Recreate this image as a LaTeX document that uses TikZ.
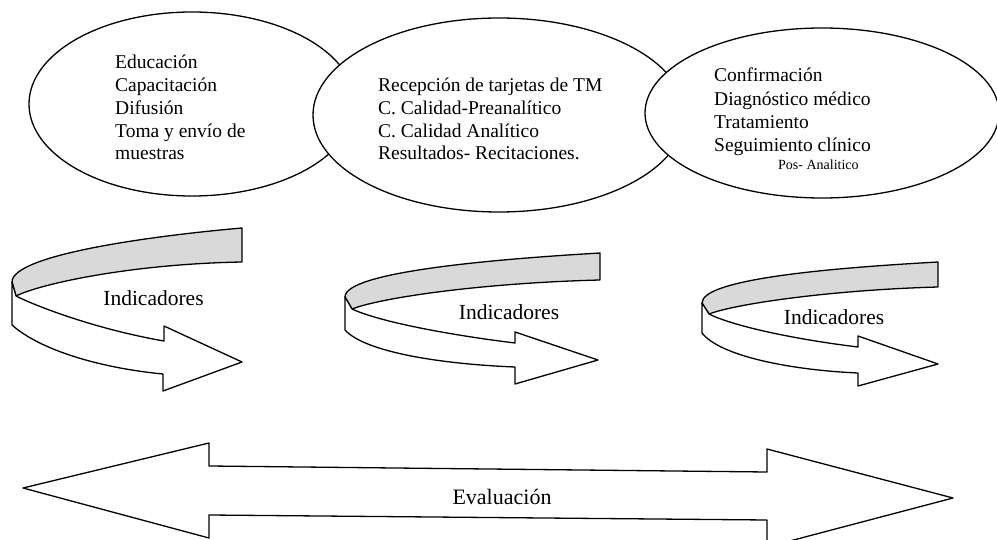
\documentclass[tikz,border=0pt]{standalone}
\usepackage{fontspec}
\setmainfont{Liberation Serif}
\begin{document}
\begin{tikzpicture}[x=1pt,y=-1pt,line join=round,
  outl/.style={draw=black,line width=1.3pt},
  ell/.style={outl,fill=white},
  band/.style={outl,fill=white},
  shade/.style={outl,fill=gray!30},
  ltxt/.style={font=\fontsize{19.5}{23}\selectfont,anchor=base west,inner sep=0pt},
  stxt/.style={font=\fontsize{14}{16}\selectfont,anchor=base west,inner sep=0pt},
  itxt/.style={font=\fontsize{21.5}{25}\selectfont,inner sep=0pt},
  etxt/.style={font=\fontsize{22}{26}\selectfont,inner sep=0pt}]
\useasboundingbox (0,0) rectangle (997,540);
\clip (0,0) rectangle (997,540);
\fill[white] (0,0) rectangle (997,540);

% ellipses
\draw[ell] (192,104) ellipse [x radius=163pt,y radius=92pt];
\draw[ell] (499,115) ellipse [x radius=186pt,y radius=97pt];
\draw[ell] (822,113) ellipse [x radius=177pt,y radius=85pt];

% ellipse texts
\node[ltxt] (a1) at (115,68.5) {Educación};
\node[ltxt] (a2) at (115,91.5) {Capacitación};
\node[ltxt] (a3) at (115,114.5) {Difusión};
\node[ltxt] (a4) at (115,138) {Toma y envío de};
\node[ltxt] (a5) at (115,160) {muestras};

\node[ltxt] (b1) at (378,91.5) {Recepción de tarjetas de TM};
\node[ltxt] (b2) at (378,114.5) {C. Calidad-Preanalítico};
\node[ltxt] (b3) at (378,137.5) {C. Calidad Analítico};
\node[ltxt] (b4) at (378,160) {Resultados- Recitaciones.};

\node[ltxt] (c1) at (714,82) {Confirmación};
\node[ltxt] (c2) at (714,106) {Diagnóstico médico};
\node[ltxt] (c3) at (714,129) {Tratamiento};
\node[ltxt] (c4) at (714,152) {Seguimiento clínico};
\node[stxt] (c5) at (778,170) {Pos- Analitico};

% curved arrow 1
\draw[shade] (242,228) .. controls (150,236) and (12,255) .. (12,282)
  -- (16,296) .. controls (40,284) and (130,264) .. (242,262) -- cycle;
\draw[band] (12,282) -- (12,325) .. controls (40,350) and (100,368) .. (163,374)
  -- (163,391) -- (242,362) -- (164,326) -- (164,341)
  .. controls (100,330) and (40,308) .. (16,296) -- cycle;
\node[itxt] (i1) at (153.5,298) {Indicadores};

% curved arrow 2
\draw[shade] (600,253) .. controls (480,260) and (345,273) .. (345,297)
  -- (352,309) .. controls (380,298) and (480,283) .. (600,280) -- cycle;
\draw[band] (345,297) -- (345,330) .. controls (365,352) and (440,364) .. (515,367)
  -- (515,384) -- (598,360) -- (515,332) -- (515,343)
  .. controls (450,335) and (380,322) .. (352,309) -- cycle;
\node[itxt] (i2) at (509,312) {Indicadores};

% curved arrow 3
\draw[shade] (938,262) .. controls (830,268) and (702,279) .. (702,303)
  -- (709,314) .. controls (735,304) and (830,290) .. (938,287) -- cycle;
\draw[band] (702,303) -- (702,333) .. controls (720,356) and (790,370) .. (858,373)
  -- (858,386) -- (938,364) -- (858,336) -- (858,347)
  .. controls (800,340) and (735,327) .. (709,314) -- cycle;
\node[itxt] (i3) at (834,317) {Indicadores};

% double arrow
\draw[outl,fill=white] (23,488) -- (209,443) -- (209,466) -- (767,472) -- (767,449)
  -- (953,498) -- (767,547) -- (767,520) -- (209,515) -- (209,538) -- cycle;
\node[etxt] (ev) at (502,497) {Evaluación};
\end{tikzpicture}
\end{document}
